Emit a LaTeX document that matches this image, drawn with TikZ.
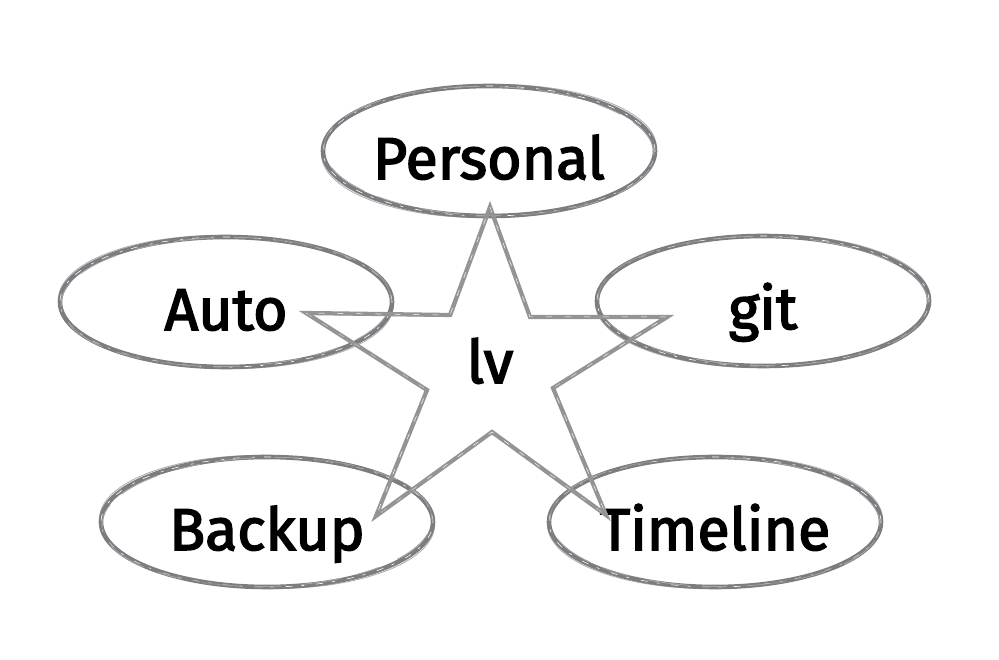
\documentclass[tikz,border=0pt]{standalone}
\usepackage{fontspec}
\setmainfont{Fira Sans}
\newfontfamily\handfont[FakeBold=2.6]{Fira Sans}
\usetikzlibrary{shapes.geometric}
\definecolor{brushgray}{RGB}{124,124,129}
\definecolor{lightbrush}{RGB}{165,165,168}
\definecolor{stargray}{RGB}{148,148,148}
\begin{document}
\begin{tikzpicture}[x=1pt,y=-1pt,
  bubble/.style={ellipse, draw=brushgray, line width=4.6pt, inner sep=0pt,
    minimum width=332pt, minimum height=130pt,
    font=\handfont\fontsize{59}{59}\selectfont, text=black,
    text height=56pt, text depth=0pt,
    postaction={draw=white, line width=0.6pt, dash pattern=on 7pt off 9pt on 3pt off 12pt}},
  streak/.style={draw=lightbrush, line width=0.9pt},
  outerstreak/.style={draw=brushgray, line width=0.9pt, opacity=0.6},
  starline/.style={draw=stargray, line width=4.2pt, line join=miter,
    postaction={draw=white, line width=0.5pt, dash pattern=on 6pt off 13pt}},
  centertext/.style={font=\handfont\fontsize{60}{60}\selectfont, text=black, inner sep=0pt}]
\useasboundingbox (0,0) rectangle (999,660);
% bubbles
\node[bubble] (personal) at (489,151) {Personal};
\node[bubble] (auto)     at (226,302) {Auto};
\node[bubble] (git)      at (763,301) {git};
\node[bubble] (backup)   at (267,522) {Backup};
\node[bubble] (timeline) at (715,522) {Timeline};
% extra brush strokes
\foreach \n/\r in {personal/-1.2, auto/1, git/-0.8, backup/1.2, timeline/-1}{
  \draw[streak, dash pattern=on 40pt off 15pt on 25pt off 20pt] (\n.center) ellipse[x radius=165pt, y radius=64.5pt, rotate=\r];
  \draw[outerstreak] (\n.center) ellipse[x radius=167.5pt, y radius=66.5pt, rotate=-\r];
}
% star
\coordinate (s1) at (490,207);
\coordinate (s2) at (530,317);
\coordinate (s3) at (667,317);
\coordinate (s4) at (553,388);
\coordinate (s5) at (606,515);
\coordinate (s6) at (492,432);
\coordinate (s7) at (376,516);
\coordinate (s8) at (427,390);
\coordinate (s9) at (306,313);
\coordinate (s10) at (450,315);
\draw[starline] (s1) -- (s2) -- (s3) -- (s4) -- (s5) -- (s6) -- (s7) -- (s8) -- (s9) -- (s10) -- cycle;
\draw[draw=stargray, line width=0.8pt, opacity=0.7] ([shift={(1.5,1)}]s1) -- ([shift={(1.5,1)}]s2) -- ([shift={(1,1.5)}]s3) -- ([shift={(-1,1)}]s4) -- ([shift={(-1.5,-1)}]s5) -- ([shift={(0,-2)}]s6) -- ([shift={(1.5,-1)}]s7) -- ([shift={(1,1)}]s8) -- ([shift={(2,1.5)}]s9) -- ([shift={(1.5,1.5)}]s10) -- cycle;
\node[centertext, anchor=base] (lv) at (490,383) {lv};
\end{tikzpicture}
\end{document}
